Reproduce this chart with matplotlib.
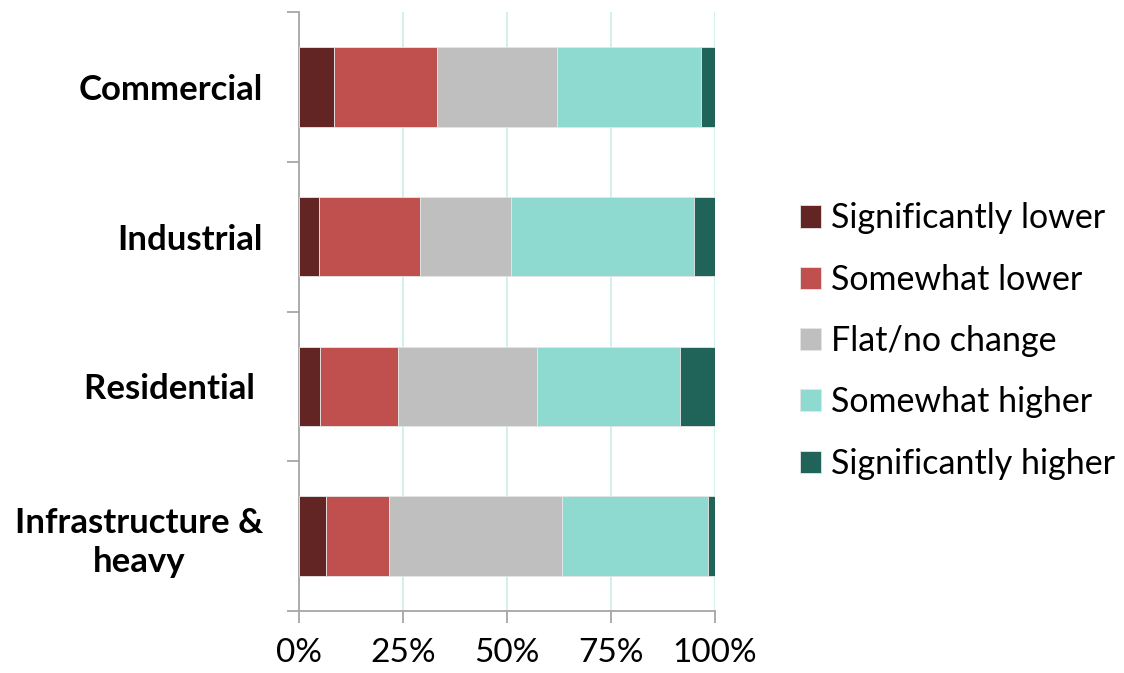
import matplotlib
matplotlib.use("Agg")
import matplotlib.pyplot as plt
import numpy as np

plt.rcParams['font.family'] = ['Lato', 'DejaVu Sans']

categories = ["Commercial", "Industrial", "Residential ", "Infrastructure &\nheavy"]
series_names = ["Significantly lower", "Somewhat lower", "Flat/no change",
                "Somewhat higher", "Significantly higher"]
sig_lower = [8.4, 4.7, 5.1, 6.5]
some_lower = [24.8, 24.4, 18.7, 15.1]
flat = [28.7, 21.9, 33.5, 41.7]
some_higher = [34.7, 44.0, 34.3, 35.0]
sig_higher = [3.4, 5.0, 8.4, 1.7]
colors = ["#632523", "#c0504d", "#bfbfbf", "#8fdad0", "#206359"]
xticks = [0, 25, 50, 75, 100]
xticklabels = ["0%", "25%", "50%", "75%", "100%"]

W, H = 1124, 673
fig = plt.figure(figsize=(W / 100, H / 100), dpi=100)
ax = fig.add_axes([299 / W, 1 - 611 / H, (715 - 299) / W, (611 - 12) / H])

y = np.arange(len(categories))
left = np.zeros(len(categories))
for name, vals, c in zip(series_names,
                         [sig_lower, some_lower, flat, some_higher, sig_higher], colors):
    ax.barh(y, vals, left=left, height=0.53, color=c, edgecolor="#e6e6e6",
            linewidth=0.6, label=name, zorder=3)
    left += np.array(vals)

ax.set_xlim(0, 100)
ax.set_ylim(len(categories) - 0.5, -0.5)
ax.set_xticks(xticks)
ax.set_xticklabels(xticklabels, fontsize=24)
ax.set_yticks(y)
ax.set_yticklabels(categories, fontsize=25, fontweight="bold")
for lbl in ax.get_yticklabels():
    lbl.set_multialignment("center")
    lbl.set_linespacing(1.27)
ax.set_yticks(np.arange(-0.5, len(categories), 1.0), minor=True)

spine_c = "#a6a6a6"
ax.tick_params(axis="y", which="major", length=0, pad=26)
ax.tick_params(axis="y", which="minor", length=8.6, width=1.3, color=spine_c)
ax.tick_params(axis="x", which="major", length=8.6, width=1.3, color=spine_c, pad=11)
for s in ["top", "right"]:
    ax.spines[s].set_visible(False)
for s in ["left", "bottom"]:
    ax.spines[s].set_color(spine_c)
    ax.spines[s].set_linewidth(1.3)

ax.grid(axis="x", color="#c9efe9", linewidth=1.2, zorder=0)
ax.set_axisbelow(True)

fig.legend(loc="center left", bbox_to_anchor=(800 / W, 1 - 341 / H), frameon=False,
           fontsize=24.5, handlelength=0.62, handleheight=0.62, handletextpad=0.3,
           labelspacing=0.86, borderpad=0, borderaxespad=0)

fig.savefig("out.png", dpi=100)
